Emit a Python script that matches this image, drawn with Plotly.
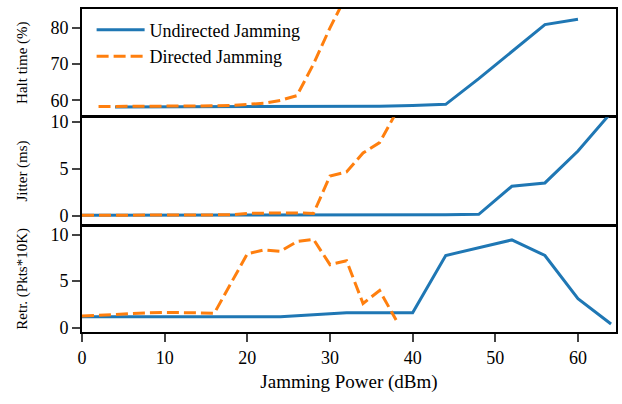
import plotly.graph_objects as go

# ---------------- data ----------------
# Halt time (%)
halt_und_x = [4, 8, 12, 16, 20, 24, 28, 32, 36, 40, 44, 48, 52, 56, 60]
halt_und_y = [58.2, 58.2, 58.2, 58.2, 58.2, 58.2, 58.3, 58.3, 58.4, 58.6, 58.9, 66.0, 73.4, 80.9, 82.4]
halt_dir_x = [2, 4, 6, 8, 10, 12, 14, 16, 18, 20, 22, 24, 26, 28, 30, 32]
halt_dir_y = [58.3, 58.3, 58.3, 58.3, 58.3, 58.4, 58.4, 58.5, 58.6, 58.8, 59.2, 60.0, 61.3, 70.0, 80.0, 89.0]

# Jitter (ms)
jit_und_x = [0, 4, 8, 12, 16, 20, 24, 28, 32, 36, 40, 44, 48, 52, 56, 60, 64]
jit_und_y = [0.05, 0.05, 0.05, 0.05, 0.05, 0.05, 0.05, 0.05, 0.05, 0.05, 0.06, 0.12, 0.15, 3.15, 3.5, 6.9, 11.0]
jit_dir_x = [0, 2, 4, 6, 8, 10, 12, 14, 16, 18, 20, 22, 24, 26, 28, 30, 32, 34, 36, 38]
jit_dir_y = [0.05, 0.05, 0.05, 0.05, 0.05, 0.05, 0.05, 0.05, 0.05, 0.1, 0.25, 0.3, 0.3, 0.3, 0.25, 4.24, 4.67, 6.7, 7.8, 11.0]

# Retransmissions (Pkts*10K)
ret_und_x = [0, 4, 8, 12, 16, 20, 24, 28, 32, 36, 40, 44, 48, 52, 56, 60, 64]
ret_und_y = [1.17, 1.17, 1.17, 1.17, 1.17, 1.17, 1.17, 1.4, 1.6, 1.6, 1.6, 7.76, 8.6, 9.43, 7.76, 3.13, 0.4]
ret_dir_x = [0, 2, 4, 6, 8, 10, 12, 14, 16, 18, 20, 22, 24, 26, 28, 30, 32, 34, 36, 38]
ret_dir_y = [1.25, 1.35, 1.45, 1.55, 1.6, 1.65, 1.65, 1.6, 1.55, 4.8, 7.94, 8.35, 8.2, 9.25, 9.5, 6.77, 7.2, 2.6, 4.0, 0.82]

series_names = ["Undirected Jamming", "Directed Jamming"]
x_ticks = [0, 10, 20, 30, 40, 50, 60]
y_titles = ["Halt time (%)", "Jitter (ms)", "Retr. (Pkts*10K)"]
x_title = "Jamming Power (dBm)"

BLUE = "#1f77b4"
ORANGE = "#ff7f0e"
FONT = "Liberation Serif"

fig = go.Figure()

panels = [
    (halt_und_x, halt_und_y, halt_dir_x, halt_dir_y, "x", "y"),
    (jit_und_x, jit_und_y, jit_dir_x, jit_dir_y, "x2", "y2"),
    (ret_und_x, ret_und_y, ret_dir_x, ret_dir_y, "x3", "y3"),
]
for i, (ux, uy, dx, dy, xa, ya) in enumerate(panels):
    fig.add_trace(go.Scatter(x=ux, y=uy, mode="lines", name=series_names[0],
                             line=dict(color=BLUE, width=3), xaxis=xa, yaxis=ya,
                             showlegend=(i == 0)))
    fig.add_trace(go.Scatter(x=dx, y=dy, mode="lines", name=series_names[1],
                             line=dict(color=ORANGE, width=3, dash="12px,5px"),
                             xaxis=xa, yaxis=ya, showlegend=(i == 0)))

axis_common = dict(showline=True, linecolor="black", linewidth=2, mirror=True,
                   showgrid=False, zeroline=False,
                   tickfont=dict(family=FONT, size=18, color="black"))

xr = [0, 64.6]
fig.update_layout(
    width=622, height=404,
    margin=dict(l=82, r=4, t=7, b=72),
    paper_bgcolor="white", plot_bgcolor="white",
    font=dict(family=FONT, color="black"),
    showlegend=True,
    legend=dict(x=0.018, y=0.992, xanchor="left", yanchor="top",
                bgcolor="rgba(0,0,0,0)", font=dict(family=FONT, size=18),
                itemwidth=48, tracegroupgap=0),
    xaxis=dict(axis_common, range=xr, domain=[0, 1], anchor="y",
               matches="x3", showticklabels=False, ticks=""),
    xaxis2=dict(axis_common, range=xr, domain=[0, 1], anchor="y2",
                matches="x3", showticklabels=False, ticks=""),
    xaxis3=dict(axis_common, range=xr, domain=[0, 1], anchor="y3",
                tickvals=x_ticks, ticks="outside", ticklen=8, tickwidth=1.5,
                title=dict(text=x_title, font=dict(family=FONT, size=19), standoff=8)),
    yaxis=dict(axis_common, range=[55.6, 85.2], domain=[0.6677, 1.0], anchor="x",
               tickvals=[60, 70, 80], ticks="outside", ticklen=8, tickwidth=1.5,
               title=dict(text=y_titles[0], font=dict(family=FONT, size=15), standoff=19)),
    yaxis2=dict(axis_common, range=[-0.95, 10.5], domain=[0.3323, 0.6646], anchor="x2",
                tickvals=[0, 5, 10], ticks="outside", ticklen=8, tickwidth=1.5,
                title=dict(text=y_titles[1], font=dict(family=FONT, size=15), standoff=19)),
    yaxis3=dict(axis_common, range=[-0.46, 10.96], domain=[0.0, 0.3292], anchor="x3",
                tickvals=[0, 5, 10], ticks="outside", ticklen=8, tickwidth=1.5,
                title=dict(text=y_titles[2], font=dict(family=FONT, size=15), standoff=19)),
)

fig.write_html("out.html")
